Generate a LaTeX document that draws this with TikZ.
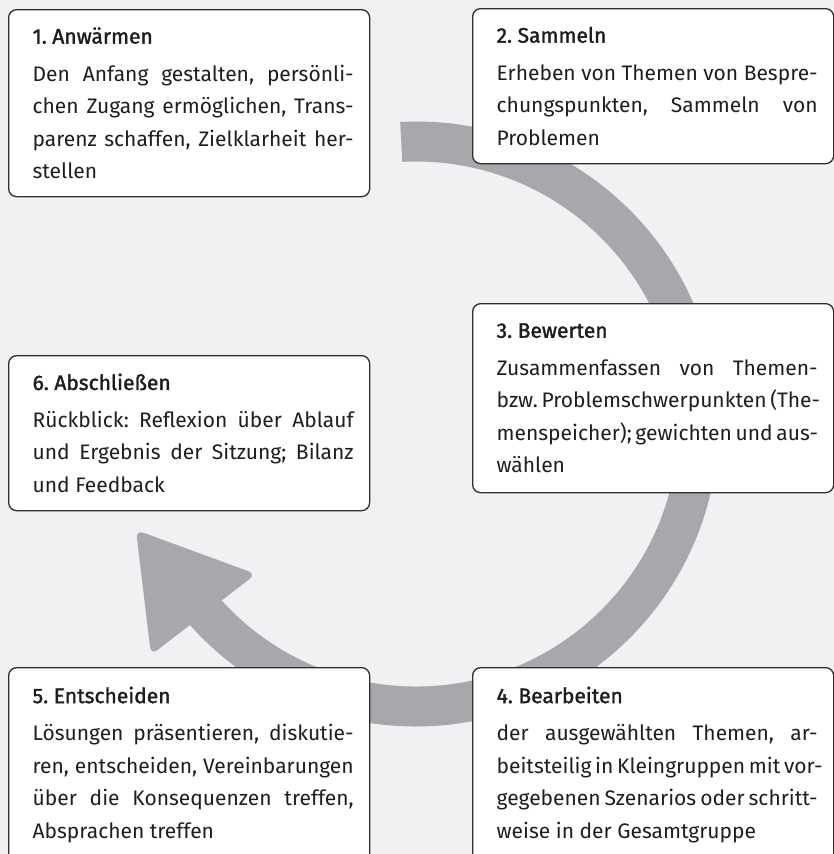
\documentclass[tikz,border=0pt]{standalone}
\usepackage{fontspec}
\setmainfont{Fira Sans}
\newfontfamily\headfont[FakeBold=1.6]{Fira Sans}
\definecolor{bggray}{HTML}{F0F1F3}
\definecolor{ringgray}{HTML}{A7A8AB}
\definecolor{framegray}{HTML}{2E2E2E}
\definecolor{txtgray}{HTML}{1E1E1E}
\newlength\phasew
\setlength\phasew{329pt}
% one justified line, one last line, and the heading
\newcommand\jl[1]{\hbox to\phasew{\kern8pt #1}}
\newcommand\lastl[1]{\hbox{\kern8pt #1}}
\newcommand\phasetext[2]{\vbox{\hsize=\phasew\baselineskip=32.5pt\lineskiplimit=-10pt
  \hbox{\kern8pt\headfont #1}\vskip5pt #2}}
\tikzset{
  phase/.style={draw=framegray, line width=1.3pt, fill=white, rounded corners=8pt,
    anchor=north west, minimum width=361pt, inner xsep=16pt, inner ysep=0pt,
    text=txtgray, font=\fontsize{21}{32.5}\selectfont\frenchspacing},
}
\begin{document}
\begin{tikzpicture}[x=1pt,y=-1pt]
  \fill[bggray] (0,0) rectangle (834,854);
  \useasboundingbox (0,0) rectangle (834,854);
  % ring with arrow head
  \coordinate (mid) at (416,424);
  \fill[ringgray] (mid) ++(-93:302.5) arc[start angle=-93, end angle=139, radius=302.5]
    -- ++(139:-40) arc[start angle=139, end angle=-93, radius=262.5] -- cycle;
  \coordinate (tip) at (136,530);
  \coordinate (barbin) at (256,574);
  \coordinate (barbout) at (151,655);
  \fill[ringgray, rounded corners=8pt] (barbin) -- (tip) -- (barbout) -- cycle;
  % phases
  \node[phase, minimum height=187pt] (anwaermen) at (8,9) {\phasetext{1. Anwärmen}{%
    \jl{Den Anfang gestalten, persönli-}
    \jl{chen Zugang ermöglichen, Trans-}
    \jl{parenz schaffen, Zielklarheit her-}
    \lastl{stellen}}};
  \node[phase, minimum height=155pt] (sammeln) at (472,8) {\phasetext{2. Sammeln}{%
    \jl{Erheben von Themen von Bespre-}
    \jl{chungspunkten, Sammeln von}
    \lastl{Problemen}}};
  \node[phase, minimum height=189pt] (bewerten) at (472,303) {\phasetext{3. Bewerten}{%
    \jl{Zusammenfassen von Themen-}
    \jl{bzw. Problemschwerpunkten (The-}
    \jl{menspeicher); gewichten und aus-}
    \lastl{wählen}}};
  \node[phase, minimum height=194pt] (bearbeiten) at (472,667) {\phasetext{4. Bearbeiten}{%
    \jl{der ausgewählten Themen, ar-}
    \jl{beitsteilig in Kleingruppen mit vor-}
    \jl{gegebenen Szenarios oder schritt-}
    \lastl{weise in der Gesamtgruppe}}};
  \node[phase, minimum height=194pt] (entscheiden) at (8,667) {\phasetext{5. Entscheiden}{%
    \jl{Lösungen präsentieren, diskutie-}
    \jl{ren, entscheiden, Vereinbarungen}
    \jl{über die Konsequenzen treffen,}
    \lastl{Absprachen treffen}}};
  \node[phase, minimum height=155pt] (abschliessen) at (8,355) {\phasetext{6. Abschließen}{%
    \jl{Rückblick: Reflexion über Ablauf}
    \jl{und Ergebnis der Sitzung; Bilanz}
    \lastl{und Feedback}}};
\end{tikzpicture}
\end{document}
